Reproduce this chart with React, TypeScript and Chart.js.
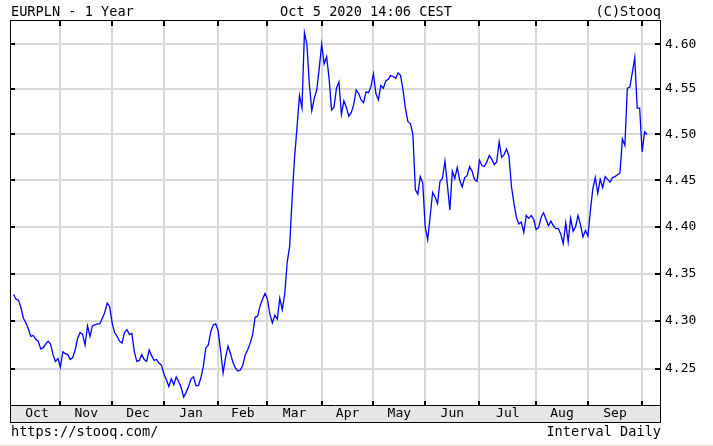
import React, { useEffect, useRef } from 'react';
import { Chart, registerables } from 'chart.js';

Chart.register(...registerables);

const titleText = 'EURPLN - 1 Year';
const stampText = 'Oct 5 2020 14:06 CEST';
const sourceText = '(C)Stooq';
const urlText = 'https://stooq.com/';
const intervalText = 'Interval Daily';

// month names shown in the bottom band
const monthLabels = ['Oct', 'Nov', 'Dec', 'Jan', 'Feb', 'Mar', 'Apr', 'May', 'Jun', 'Jul', 'Aug', 'Sep'];
// trading-session index of the first session of each month (2019-10-07 = 0), last one = 2020-10-01
const monthStart = [0, 19, 40, 61, 83, 103, 125, 146, 167, 189, 212, 233, 255];
// right-axis tick values
const yTicks = [4.25, 4.3, 4.35, 4.4, 4.45, 4.5, 4.55, 4.6];

// EURPLN daily close, one value per session from 2019-10-07 to 2020-10-05
const rate = [
  4.328, 4.323, 4.322, 4.314, 4.303, 4.298, 4.292, 4.284, 4.285, 4.281,
  4.279, 4.271, 4.272, 4.276, 4.279, 4.276, 4.265, 4.258, 4.261, 4.252,
  4.268, 4.266, 4.265, 4.260, 4.262, 4.270, 4.282, 4.288, 4.286, 4.275,
  4.295, 4.284, 4.295, 4.296, 4.297, 4.297, 4.303, 4.309, 4.319, 4.315,
  4.298, 4.288, 4.284, 4.279, 4.277, 4.288, 4.291, 4.286, 4.287, 4.268,
  4.258, 4.259, 4.265, 4.260, 4.258, 4.270, 4.264, 4.259, 4.260, 4.256,
  4.254, 4.245, 4.239, 4.232, 4.240, 4.234, 4.242, 4.237, 4.231, 4.221,
  4.226, 4.232, 4.240, 4.242, 4.233, 4.233, 4.241, 4.253, 4.272, 4.275,
  4.289, 4.296, 4.297, 4.290, 4.269, 4.246, 4.262, 4.274, 4.266, 4.257,
  4.251, 4.248, 4.249, 4.254, 4.265, 4.270, 4.277, 4.286, 4.304, 4.305,
  4.316, 4.323, 4.329, 4.323, 4.307, 4.298, 4.306, 4.302, 4.324, 4.312,
  4.328, 4.362, 4.379, 4.430, 4.475, 4.508, 4.543, 4.529, 4.613, 4.600,
  4.555, 4.526, 4.540, 4.549, 4.573, 4.600, 4.578, 4.586, 4.562, 4.527,
  4.530, 4.551, 4.558, 4.522, 4.537, 4.530, 4.520, 4.524, 4.533, 4.549,
  4.545, 4.538, 4.535, 4.547, 4.546, 4.553, 4.567, 4.545, 4.538, 4.554,
  4.551, 4.559, 4.561, 4.565, 4.564, 4.562, 4.568, 4.565, 4.549, 4.528,
  4.514, 4.512, 4.500, 4.440, 4.435, 4.454, 4.447, 4.400, 4.386, 4.411,
  4.437, 4.432, 4.425, 4.449, 4.452, 4.471, 4.445, 4.418, 4.460, 4.452,
  4.464, 4.450, 4.443, 4.453, 4.455, 4.465, 4.460, 4.451, 4.449, 4.472,
  4.466, 4.465, 4.470, 4.477, 4.473, 4.467, 4.470, 4.492, 4.475, 4.478,
  4.484, 4.476, 4.443, 4.425, 4.410, 4.403, 4.405, 4.394, 4.412, 4.409,
  4.412, 4.408, 4.397, 4.399, 4.410, 4.415, 4.408, 4.401, 4.406, 4.401,
  4.398, 4.398, 4.392, 4.382, 4.404, 4.384, 4.409, 4.395, 4.400, 4.412,
  4.402, 4.389, 4.396, 4.390, 4.417, 4.441, 4.453, 4.436, 4.451, 4.442,
  4.454, 4.451, 4.448, 4.453, 4.454, 4.456, 4.458, 4.495, 4.488, 4.551,
  4.552, 4.568, 4.585, 4.529, 4.529, 4.481, 4.503, 4.500,
];

const MONO = '"DejaVu Sans Mono", "Liberation Mono", monospace';

const stooqFrame = {
  id: 'stooqFrame',
  afterDraw(chart: any) {
    const { ctx, chartArea: a, scales } = chart;
    const xs = scales.x;
    const ys = scales.y;
    const bandBottom = a.bottom + 17;
    ctx.save();

    // month band
    ctx.fillStyle = '#e6e6e6';
    ctx.fillRect(a.left, a.bottom + 1, a.right - a.left, bandBottom - a.bottom - 1);

    // frame
    ctx.strokeStyle = '#000';
    ctx.lineWidth = 1;
    ctx.strokeRect(a.left - 0.5, a.top - 0.5, a.right - a.left + 1, bandBottom - a.top + 1);
    ctx.beginPath();
    ctx.moveTo(a.left - 0.5, a.bottom + 0.5);
    ctx.lineTo(a.right + 0.5, a.bottom + 0.5);
    ctx.stroke();

    // inward tick marks
    ctx.fillStyle = '#000';
    monthStart.slice(1).forEach((v) => {
      const px = Math.round(xs.getPixelForValue(v));
      ctx.fillRect(px - 1, a.top, 2, 5);
      ctx.fillRect(px - 1, a.bottom - 4, 2, 4);
    });
    yTicks.forEach((v) => {
      const py = Math.round(ys.getPixelForValue(v));
      ctx.fillRect(a.left, py - 1, 4, 2);
      ctx.fillRect(a.right - 5, py - 1, 5, 2);
    });

    // month labels
    ctx.font = '13px ' + MONO;
    ctx.textAlign = 'center';
    ctx.textBaseline = 'middle';
    monthLabels.forEach((m, i) => {
      const mid = (monthStart[i] + monthStart[i + 1]) / 2;
      ctx.fillText(m, xs.getPixelForValue(mid), a.bottom + 9);
    });

    // header and footer
    ctx.font = '13.6px ' + MONO;
    ctx.textAlign = 'left';
    ctx.fillText(titleText, a.left, 12);
    ctx.fillText(urlText, a.left, 432);
    ctx.textAlign = 'center';
    ctx.fillText(stampText, 366, 12);
    ctx.textAlign = 'right';
    ctx.fillText(sourceText, a.right + 1, 12);
    ctx.fillText(intervalText, a.right + 1, 432);

    // faint bottom edge
    ctx.fillStyle = '#ece7d3';
    ctx.fillRect(0, 445, chart.width, 1);
    ctx.restore();
  },
};

export default function App() {
  const ref = useRef<HTMLCanvasElement>(null);

  useEffect(() => {
    if (!ref.current) return;
    const chart = new Chart(ref.current, {
      type: 'line',
      data: {
        datasets: [
          {
            data: rate.map((v, i) => ({ x: i, y: v })),
            borderColor: '#0000ff',
            borderWidth: 1.3,
            pointRadius: 0,
            tension: 0,
            fill: false,
          },
        ],
      },
      options: {
        animation: false,
        responsive: false,
        devicePixelRatio: 1,
        events: [],
        layout: { padding: { left: 11, top: 21, right: 0, bottom: 0 } },
        plugins: { legend: { display: false }, tooltip: { enabled: false } },
        scales: {
          x: {
            type: 'linear',
            min: -1.04,
            max: 262.25,
            bounds: 'data',
            afterBuildTicks: (s: any) => {
              s.ticks = monthStart.slice(1).map((v) => ({ value: v }));
            },
            afterFit: (s: any) => {
              s.height = 41;
            },
            grid: { color: '#d9d9d9', lineWidth: 2, drawTicks: false },
            border: { display: false },
            ticks: { display: false },
          },
          y: {
            type: 'logarithmic',
            position: 'right',
            min: 4.213,
            max: 4.6261,
            bounds: 'data',
            afterBuildTicks: (s: any) => {
              s.ticks = yTicks.map((v) => ({ value: v }));
            },
            afterFit: (s: any) => {
              s.width = 53;
            },
            grid: { color: '#d9d9d9', lineWidth: 2, drawTicks: false },
            border: { display: false },
            ticks: {
              color: '#000',
              padding: 5,
              autoSkip: false,
              font: { family: MONO, size: 13 },
              callback: (v: any) => Number(v).toFixed(2),
            },
          },
        },
      },
      plugins: [stooqFrame],
    } as any);
    return () => chart.destroy();
  }, []);

  return (
    <div style={{ position: 'absolute', left: 0, top: 0, width: 713, height: 446, background: '#fff' }}>
      <canvas ref={ref} width={713} height={446} style={{ display: 'block', width: 713, height: 446 }} />
    </div>
  );
}
